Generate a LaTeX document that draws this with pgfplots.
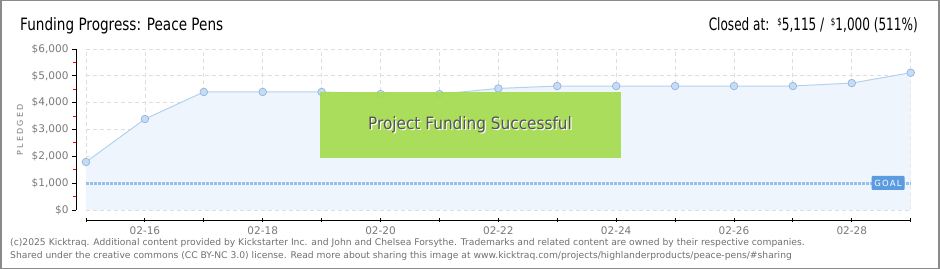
\documentclass[border=0pt]{standalone}
\usepackage{graphicx}
\usepackage{pgfplots}
\pgfplotsset{compat=1.18}
\usepackage{fontspec}
\setmainfont{DejaVu Sans}
\newfontfamily\titlefont[FakeStretch=0.80]{DejaVu Sans}
\newfontfamily\closedfont[FakeStretch=0.71]{DejaVu Sans}
\newfontfamily\boxfont[FakeStretch=0.9]{DejaVu Sans}
\newfontfamily\spacedfont[LetterSpace=14]{DejaVu Sans}
\newfontfamily\pledgedfont[LetterSpace=28]{DejaVu Sans}
\definecolor{fillblue}{HTML}{EEF5FD}
\definecolor{lineblue}{HTML}{B4D2F0}
\definecolor{markfill}{HTML}{C4DCF6}
\definecolor{markdraw}{HTML}{94B4DC}
\definecolor{goalblue}{HTML}{94C0EC}
\definecolor{goalbox}{HTML}{5B9BDF}
\definecolor{gridgray}{HTML}{DEDEDE}
\definecolor{ticktext}{HTML}{7A7A7A}
\definecolor{foottext}{HTML}{707070}
\definecolor{greenbox}{HTML}{A6DC50}
\definecolor{boxtext}{HTML}{555555}
\definecolor{frame}{HTML}{8A8A8A}
\begin{document}
\begin{tikzpicture}[x=1pt,y=1pt]
\fill[white] (0,0) rectangle (940,270);
\draw[frame, line width=1.5pt] (0.75,1.25) rectangle (938.75,269.25);
\begin{axis}[
  at={(86pt,60pt)}, anchor=south west,
  scale only axis, width=824.7pt, height=161pt,
  xmin=0, xmax=14, ymin=0, ymax=6000,
  clip=false,
  axis x line*=bottom, axis y line*=left,
  axis x line shift=10pt, axis y line shift=10pt,
  axis line style={black, line width=0.9pt},
  xtick={0,...,14},
  xticklabels={,02-16,,02-18,,02-20,,02-22,,02-24,,02-26,,02-28,},
  ytick={0,1000,2000,3000,4000,5000,6000},
  yticklabels={{\$0},{\$1,000},{\$2,000},{\$3,000},{\$4,000},{\$5,000},{\$6,000}},
  minor ytick={500,1500,2500,3500,4500,5500},
  xtick align=center, ytick align=outside,
  major tick length=4pt, minor tick length=3pt,
  major tick style={black, line width=0.9pt},
  minor tick style={red, line width=0.9pt},
  grid=major,
  major grid style={gridgray, dash pattern=on 4pt off 3pt, line width=0.8pt},
  tick label style={font=\fontsize{10.5}{10.5}\selectfont, text=ticktext},
  xticklabel style={yshift=-1pt},
  /pgf/number format/assume math mode=true,
]
\addplot[draw=none, fill=fillblue] coordinates {
 (0,1790)(1,3390)(2,4400)(3,4400)(4,4400)(5,4320)(6,4320)(7,4530)
 (8,4620)(9,4620)(10,4620)(11,4620)(12,4620)(13,4730)(14,5115)} \closedcycle;
\addplot[goalblue, line width=3pt, dash pattern=on 2.8pt off 1.2pt] coordinates {(0,1000)(14,1000)};
\addplot[lineblue, line width=1pt, mark=*, mark size=3.8pt,
  mark options={fill=markfill, draw=markdraw, line width=0.7pt}] coordinates {
 (0,1790)(1,3390)(2,4400)(3,4400)(4,4400)(5,4320)(6,4320)(7,4530)
 (8,4620)(9,4620)(10,4620)(11,4620)(12,4620)(13,4730)(14,5115)};
\end{axis}
% goal label
\node[fill=goalbox, rounded corners=1pt, minimum width=33pt, minimum height=14pt, inner sep=0pt,
  text=white, font=\spacedfont\fontsize{8.5}{8.5}\selectfont] at (888,87) {GOAL};
% green box
\fill[greenbox, fill opacity=0.93] (320,112) rectangle (621,178);
\node[text=white, font=\boxfont\fontsize{17}{17}\selectfont] at (471.2,144.2) {Project Funding Successful};
\node[text=boxtext, font=\boxfont\fontsize{17}{17}\selectfont] at (470,145) {Project Funding Successful};
% y label
\node[rotate=90, text=ticktext, font=\pledgedfont\fontsize{8}{8}\selectfont] at (20,140) {PLEDGED};
% titles
\node[anchor=base west, inner sep=0pt, font=\titlefont\fontsize{17}{17}\selectfont] at (20,239.5) {Funding Progress: Peace Pens};
\node[anchor=base east, inner sep=0pt, font=\closedfont\fontsize{17}{17}\selectfont] at (918,239.5)
  {Closed at:\, \raisebox{5pt}{\fontsize{10}{10}\selectfont\$}5,115 / \,\raisebox{5pt}{\fontsize{10}{10}\selectfont\$}1,000 (511\%)};
% footer
\node[anchor=west, inner sep=0pt, text=foottext, font=\fontsize{9.2}{9.2}\selectfont] at (10,27)
  {(c)2025 Kicktraq. Additional content provided by Kickstarter Inc. and John and Chelsea Forsythe. Trademarks and related content are owned by their respective companies.};
\node[anchor=west, inner sep=0pt, text=foottext, font=\fontsize{9.2}{9.2}\selectfont] at (10,14.5)
  {Shared under the creative commons (CC BY-NC 3.0) license. Read more about sharing this image at www.kicktraq.com/projects/highlanderproducts/peace-pens/\#sharing};
\end{tikzpicture}
\end{document}
